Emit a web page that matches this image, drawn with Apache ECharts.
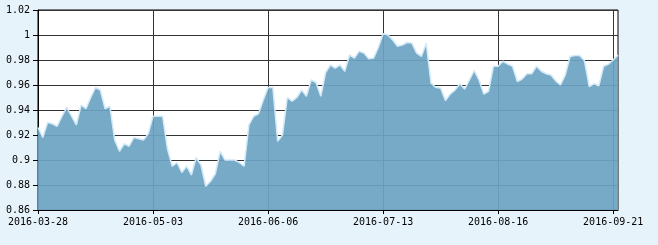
<!DOCTYPE html>
<html>
<head>
<meta charset="utf-8">
<script src="https://cdn.jsdelivr.net/npm/echarts@6/dist/echarts.min.js"></script>
<style>
html,body{margin:0;padding:0;background:#e7f3fb;}
#chart{width:658px;height:245px;}
</style>
</head>
<body>
<div id="chart"></div>
<script>
const dates = [
"2016-03-28","2016-03-29","2016-03-30","2016-03-31",
"2016-04-01","2016-04-05","2016-04-06","2016-04-07","2016-04-08","2016-04-11","2016-04-12","2016-04-13","2016-04-14","2016-04-15",
"2016-04-18","2016-04-19","2016-04-20","2016-04-21","2016-04-22","2016-04-25","2016-04-26","2016-04-27","2016-04-28","2016-04-29",
"2016-05-03","2016-05-04","2016-05-05","2016-05-06","2016-05-09","2016-05-10","2016-05-11","2016-05-12","2016-05-13",
"2016-05-16","2016-05-17","2016-05-18","2016-05-19","2016-05-20","2016-05-23","2016-05-24","2016-05-25","2016-05-26","2016-05-27",
"2016-05-30","2016-05-31","2016-06-01","2016-06-02","2016-06-03",
"2016-06-06","2016-06-07","2016-06-13","2016-06-14","2016-06-15","2016-06-16","2016-06-17",
"2016-06-20","2016-06-21","2016-06-22","2016-06-23","2016-06-24","2016-06-27","2016-06-28","2016-06-29","2016-06-30","2016-07-01",
"2016-07-04","2016-07-05","2016-07-06","2016-07-07","2016-07-08","2016-07-11","2016-07-12",
"2016-07-13","2016-07-14","2016-07-15","2016-07-18","2016-07-19","2016-07-20","2016-07-21","2016-07-22",
"2016-07-25","2016-07-26","2016-07-27","2016-07-28","2016-07-29","2016-08-01","2016-08-02","2016-08-03","2016-08-04","2016-08-05",
"2016-08-08","2016-08-09","2016-08-10","2016-08-11","2016-08-12","2016-08-15",
"2016-08-16","2016-08-17","2016-08-18","2016-08-19","2016-08-22","2016-08-23","2016-08-24","2016-08-25","2016-08-26",
"2016-08-29","2016-08-30","2016-08-31","2016-09-01","2016-09-02","2016-09-05","2016-09-06","2016-09-07","2016-09-08","2016-09-09",
"2016-09-12","2016-09-13","2016-09-14","2016-09-19","2016-09-20",
"2016-09-21","2016-09-22"
];
const values = [
0.926,0.918,0.930,0.929,0.927,0.935,0.942,0.935,0.928,0.944,
0.941,0.950,0.958,0.956,0.941,0.943,0.916,0.907,0.913,0.911,
0.918,0.917,0.916,0.921,0.935,0.935,0.935,0.909,0.895,0.898,
0.890,0.895,0.888,0.902,0.896,0.879,0.883,0.889,0.907,0.900,
0.900,0.900,0.898,0.895,0.928,0.935,0.937,0.948,0.958,0.958,
0.915,0.920,0.950,0.947,0.950,0.956,0.951,0.964,0.962,0.951,
0.970,0.976,0.9735,0.976,0.971,0.984,0.9815,0.987,0.9855,0.981,
0.9815,0.990,1.001,1.000,0.996,0.991,0.992,0.994,0.9935,0.9855,
0.983,0.9935,0.9615,0.958,0.9575,0.9476,0.9527,0.956,0.961,0.9567,
0.964,0.9716,0.964,0.9527,0.955,0.975,0.975,0.979,0.9767,0.975,
0.9628,0.9647,0.969,0.969,0.975,0.971,0.969,0.968,0.9633,0.960,
0.968,0.9828,0.9836,0.9836,0.9794,0.9588,0.961,0.9593,0.975,0.9767,
0.980,0.984
];
const yMin = 0.86, yMax = 1.02, yStep = 0.02;
const labelEvery = 24;

const chart = echarts.init(document.getElementById('chart'), null, {renderer:'canvas'});
const font = {fontFamily:'"DejaVu Sans Mono", monospace', fontSize:10, color:'#000'};
chart.setOption({
  backgroundColor:'#e7f3fb',
  animation:false,
  grid:{left:38,right:40,top:10,bottom:35,show:true,backgroundColor:'#fff',borderColor:'#000',borderWidth:1},
  xAxis:{
    type:'category', data:dates, boundaryGap:false,
    axisLine:{lineStyle:{color:'#000',width:1}},
    axisTick:{show:true,interval:labelEvery-1,length:4,lineStyle:{color:'#000'}},
    axisLabel:Object.assign({interval:labelEvery-1,margin:7},font),
    splitLine:{show:true,interval:labelEvery-1,lineStyle:{color:'#333',width:1}}
  },
  yAxis:{
    type:'value', min:yMin, max:yMax, interval:yStep,
    axisLine:{show:true,lineStyle:{color:'#000',width:1}},
    axisTick:{show:true,length:5,lineStyle:{color:'#000'}},
    axisLabel:Object.assign({margin:8,formatter:function(v){return String(+v.toFixed(2));}},font),
    splitLine:{show:true,lineStyle:{color:'#333',width:1}}
  },
  series:[{
    type:'line', data:values, symbol:'none', smooth:false,
    lineStyle:{color:'#d4e9f7',width:1.5},
    areaStyle:{color:'rgb(109,164,195)',opacity:0.93}
  }]
});
</script>
</body>
</html>
